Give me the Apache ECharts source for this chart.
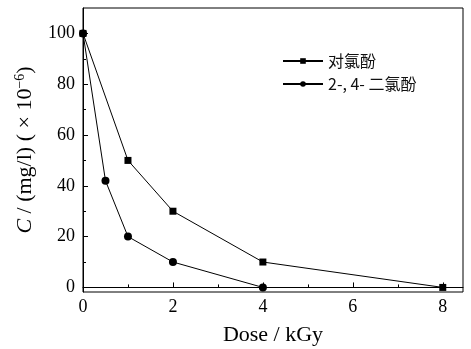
<!DOCTYPE html>
<html><head><meta charset="utf-8">
<script src="https://cdn.jsdelivr.net/npm/echarts@6/dist/echarts.min.js"></script>
<style>html,body{margin:0;padding:0;background:#fff}#c{width:471px;height:349px}</style>
</head><body><div id="c"></div>
<script>
const seriesNames = ['对氯酚', '2-, 4- 二氯酚'];
const doseA = [0, 1, 2, 4, 8];
const concA = [100, 50, 30, 10, 0];
const doseB = [0, 0.5, 1, 2, 4];
const concB = [100, 42, 20, 10, 0];
const xMajor = [0, 2, 4, 6, 8];
const xMinor = [1, 3, 5, 7];
const yMajor = [0, 20, 40, 60, 80, 100];
const yMinor = [10, 30, 50, 70, 90];

const serif = 'Liberation Serif, Times New Roman, serif';
const chart = echarts.init(document.getElementById('c'), null, {renderer: 'canvas'});
const xBase = {type: 'value', min: 0, max: 8.45, splitLine: {show: false}};
const yBase = {type: 'value', min: -1.8, max: 110, splitLine: {show: false}};
chart.setOption({
  animation: false,
  grid: {left: 83, right: 8, top: 8, bottom: 57, show: true, borderColor: '#000', borderWidth: 1,
         containLabel: false, outerBoundsMode: 'none'},
  legend: {
    orient: 'vertical', left: 277, top: 48, itemWidth: 40, itemHeight: 7, itemGap: 7,
    textStyle: {fontFamily: 'Noto Sans CJK SC', fontSize: 16, color: '#111'},
    data: seriesNames
  },
  xAxis: [
    Object.assign({}, xBase, {
      name: 'Dose / kGy', nameLocation: 'middle', nameGap: 32,
      nameTextStyle: {fontFamily: serif, fontSize: 22, color: '#000'},
      axisLine: {lineStyle: {color: '#000', width: 1}},
      axisTick: {inside: true, length: 5, customValues: xMajor, lineStyle: {color: '#000'}},
      axisLabel: {customValues: xMajor, fontFamily: serif, fontSize: 18, color: '#000', margin: 6}
    }),
    Object.assign({}, xBase, {
      position: 'bottom', axisLine: {show: false},
      axisTick: {inside: true, length: 3, customValues: xMinor, lineStyle: {color: '#000'}},
      axisLabel: {show: false}
    })
  ],
  yAxis: [
    Object.assign({}, yBase, {
      name: '{i|C} / (mg/l) ( × 10{s|−6})', nameLocation: 'middle', nameGap: 46,
      nameTextStyle: {fontFamily: serif, fontSize: 22, color: '#000',
        rich: {i: {fontFamily: serif, fontSize: 22, fontStyle: 'italic', color: '#000'},
               s: {fontFamily: serif, fontSize: 14, color: '#000', verticalAlign: 'top', padding: [0, 0, 10, 0]}}},
      axisLine: {lineStyle: {color: '#000', width: 1}},
      axisTick: {inside: true, length: 5, customValues: yMajor, lineStyle: {color: '#000'}},
      axisLabel: {customValues: yMajor, fontFamily: serif, fontSize: 18, color: '#000', margin: 8}
    }),
    Object.assign({}, yBase, {
      position: 'left', axisLine: {show: false},
      axisTick: {inside: true, length: 3, customValues: yMinor, lineStyle: {color: '#000'}},
      axisLabel: {show: false}
    })
  ],
  series: [
    {name: seriesNames[0], type: 'line', symbol: 'rect', symbolSize: 7,
     data: doseA.map((d, i) => [d, concA[i]]),
     lineStyle: {color: '#000', width: 1}, itemStyle: {color: '#000'}},
    {name: seriesNames[1], type: 'line', symbol: 'circle', symbolSize: 8,
     data: doseB.map((d, i) => [d, concB[i]]),
     lineStyle: {color: '#000', width: 1}, itemStyle: {color: '#000'}}
  ]
});
</script></body></html>
